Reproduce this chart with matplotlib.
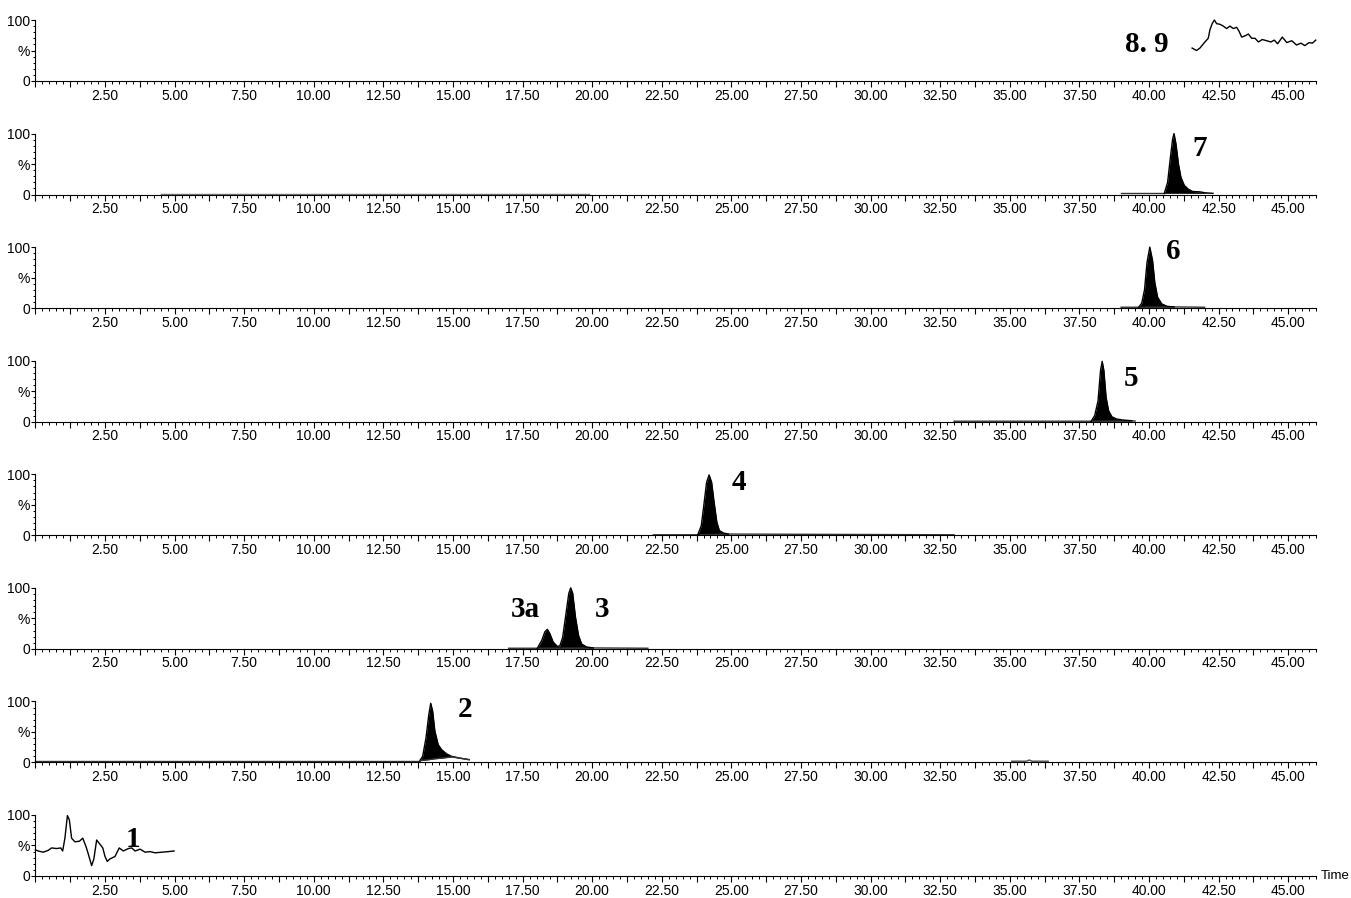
"""
Stacked chromatogram panels (peaks 1 ... 8.9), one trace window per panel.
"""

import matplotlib
matplotlib.use('Agg')
import matplotlib.pyplot as plt
from matplotlib.ticker import MultipleLocator, FuncFormatter

# ── data (time in min, intensity in %) ──

# panel 1: peaks 8, 9 (raw trace, no fill)
t89 = [41.55, 41.71, 41.83, 42.01, 42.13, 42.19, 42.27, 42.35, 42.43, 42.55, 42.67,
       42.79, 42.91, 43.03, 43.15, 43.23, 43.33, 43.45, 43.57, 43.69, 43.81, 43.93,
       44.07, 44.23, 44.38, 44.50, 44.62, 44.79, 44.95, 45.13, 45.30, 45.46, 45.60,
       45.75, 45.87, 45.99]
v89 = [54, 50, 54, 64, 70, 84, 94, 100, 94, 93, 90, 86, 90, 86, 88, 82, 72, 74, 77,
       70, 70, 64, 68, 66, 64, 67, 61, 72, 63, 66, 59, 62, 58, 63, 62, 67]

# panel 2: peak 7
t7 = [40.55, 40.67, 40.77, 40.85, 40.90, 40.97, 41.06, 41.15, 41.27, 41.41, 41.57,
      41.83, 42.00, 42.30]
v7 = [2, 20, 61, 91, 100, 83, 50, 28, 15, 9, 5, 4.5, 3, 2]
base7_t = [39.0, 40.55]
base7_v = [2, 2]
flat7_t = [4.5, 19.9]
flat7_v = [0.5, 0.5]

# panel 3: peak 6
t6 = [39.63, 39.74, 39.84, 39.93, 40.03, 40.13, 40.21, 40.31, 40.46, 40.65, 40.90]
v6 = [1.5, 8, 30, 75, 100, 78, 42, 18, 7, 3, 2]
base6_t = [39.0, 39.63, 40.90, 42.0]
base6_v = [1.5, 1.5, 2, 1.5]

# panel 4: peak 5
t5 = [37.92, 38.05, 38.17, 38.26, 38.32, 38.38, 38.46, 38.55, 38.67, 38.84, 39.08, 39.38]
v5 = [0.5, 10, 34, 84, 99, 84, 40, 18, 8, 4.4, 2.7, 1.6]
base5_t = [33.0, 37.92, 39.38, 39.5]
base5_v = [0.8, 0.8, 1.6, 1.0]

# panel 5: peak 4
t4 = [23.79, 23.92, 24.01, 24.11, 24.20, 24.29, 24.38, 24.48, 24.57, 24.71, 24.89]
v4 = [0.5, 16, 49, 87, 99, 87, 54, 21, 7.7, 3.8, 2]
base4_t = [22.2, 23.79, 24.89, 33.0]
base4_v = [0.8, 0.8, 2, 0.8]

# panel 6: peaks 3a and 3
t3 = [18.03, 18.19, 18.30, 18.39, 18.48, 18.60, 18.75, 18.84, 18.94, 19.06, 19.16,
      19.23, 19.30, 19.40, 19.51, 19.62, 19.80, 20.04]
v3 = [1, 14, 28, 32, 25, 11, 4, 5, 19, 58, 91, 100, 91, 52, 22, 8, 3, 1.5]
base3_t = [17.0, 18.03, 20.04, 22.0]
base3_v = [1, 1, 1.5, 1]

# panel 7: peak 2
t2 = [13.81, 13.91, 14.03, 14.13, 14.20, 14.27, 14.35, 14.47, 14.59, 14.77, 14.95,
      15.25, 15.58]
v2 = [3, 10, 40, 78, 97, 84, 51, 29, 21, 14, 10, 7, 4.5]
b2 = [3, 3.5, 4, 4.5, 5, 5.5, 6, 6.5, 7, 8, 9, 7, 4.5]
base2_t = [0.0, 13.81]
base2_v = [3, 3]
blip2_t = [35.07, 35.6, 35.7, 35.8, 36.38]
blip2_v = [2, 2, 4, 2, 2]

# panel 8: peak 1 (raw trace, no fill)
t1 = [0.0, 0.10, 0.28, 0.46, 0.58, 0.76, 0.91, 0.98, 1.06, 1.15, 1.22, 1.30, 1.42,
      1.58, 1.70, 1.82, 1.90, 2.02, 2.10, 2.20, 2.32, 2.42, 2.50, 2.58, 2.68, 2.86,
      3.01, 3.16, 3.34, 3.46, 3.58, 3.76, 3.94, 4.12, 4.30, 4.54, 4.78, 4.98]
v1 = [43, 41, 39, 42, 46, 45, 46, 41, 62, 99, 92, 62, 56, 57, 62, 48, 36, 17, 28,
      59, 52, 46, 32, 24, 28, 32, 46, 41, 45, 46, 41, 44, 39, 40, 38, 39, 40, 41]

# peak labels: (panel, text, time, intensity at baseline)
labels = [
    (0, '8. 9', 39.93, 47.5),
    (1, '7', 41.83, 64),
    (2, '6', 40.86, 80),
    (3, '5', 39.35, 59),
    (4, '4', 25.27, 74),
    (5, '3a', 17.6, 52),
    (5, '3', 20.37, 52),
    (6, '2', 15.45, 74),
    (7, '1', 3.5, 47),
]

X_MAX = 46.0
TICK_FONT = 10
LABEL_FONT = 21
LW = 1.0

plt.rcParams.update({
    'font.family': ['Liberation Sans', 'DejaVu Sans'],
    'font.size': TICK_FONT,
})

fig = plt.figure(figsize=(13.51, 8.98), dpi=100)

W, H = 1351.0, 898.0
axes = []
for i in range(8):
    y_bottom = 81 + 113.57 * i
    ax = fig.add_axes([35.4 / W, 1 - y_bottom / H, 1280.6 / W, 61 / H])
    ax.set_xlim(0, X_MAX)
    ax.set_ylim(0, 100)
    for s in ('top', 'right'):
        ax.spines[s].set_visible(False)
    ax.spines['left'].set_bounds(0, 100)
    ax.spines['left'].set_linewidth(0.8)
    ax.spines['bottom'].set_linewidth(0.8)
    ax.patch.set_alpha(0)

    ax.xaxis.set_major_locator(MultipleLocator(1.25))
    ax.xaxis.set_minor_locator(MultipleLocator(0.25))
    ax.xaxis.set_major_formatter(FuncFormatter(
        lambda x, p: '' if x < 0.1 or abs((x / 2.5) - round(x / 2.5)) > 1e-6 else f'{x:.2f}'))
    ax.tick_params(axis='x', which='major', length=4, width=0.8, pad=1.5,
                   labelsize=TICK_FONT)
    ax.tick_params(axis='x', which='minor', length=2.2, width=0.7)

    ax.set_yticks([0, 50, 100], ['0', '%', '100'])
    ax.yaxis.set_minor_locator(MultipleLocator(10))
    ax.tick_params(axis='y', which='major', length=3, width=0.8, pad=1,
                   labelsize=TICK_FONT)
    ax.tick_params(axis='y', which='minor', length=1.8, width=0.7)
    axes.append(ax)


def peak(ax, t, v, base):
    ax.fill_between(t, base, v, color='black', linewidth=0, clip_on=False)
    ax.plot(t, v, color='black', lw=LW, clip_on=False)


def line(ax, t, v, color='black'):
    ax.plot(t, v, color=color, lw=LW, clip_on=False)


# panel 1
line(axes[0], t89, v89)
# panel 2
line(axes[1], flat7_t, flat7_v, color='0.45')
line(axes[1], base7_t, base7_v, color='0.2')
peak(axes[1], t7, v7, 2)
# panel 3
line(axes[2], base6_t, base6_v, color='0.2')
peak(axes[2], t6, v6, 1.5)
# panel 4
line(axes[3], base5_t, base5_v, color='0.2')
peak(axes[3], t5, v5, 0.8)
# panel 5
line(axes[4], base4_t, base4_v, color='0.2')
peak(axes[4], t4, v4, 0.8)
# panel 6
line(axes[5], base3_t, base3_v, color='0.2')
peak(axes[5], t3, v3, 1)
# panel 7
line(axes[6], base2_t, base2_v, color='0.2')
peak(axes[6], t2, v2, b2)
line(axes[6], t2, b2, color='0.2')
line(axes[6], blip2_t, blip2_v, color='0.3')
# panel 8
line(axes[7], t1, v1)

for panel, text, t, v in labels:
    axes[panel].text(t, v, text, ha='center', va='baseline',
                     fontsize=LABEL_FONT, fontweight='bold',
                     family=['Liberation Serif', 'DejaVu Serif'])

axes[7].text(1.004, 0, 'Time', transform=axes[7].transAxes,
             ha='left', va='center', fontsize=9.5)

fig.savefig('out.png', dpi=100)
